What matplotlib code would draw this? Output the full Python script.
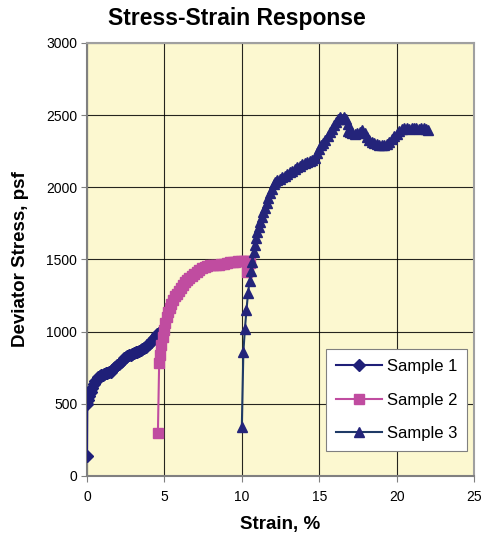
import matplotlib
matplotlib.use("Agg")
import matplotlib.pyplot as plt

plt.rcParams['font.family'] = ['Liberation Sans', 'DejaVu Sans']

# Sample 1 - strain (%) and deviator stress (psf)
s1_strain = [0.0, 0.02, 0.08, 0.15, 0.24, 0.33, 0.42, 0.52, 0.62, 0.72, 0.82, 0.92,
             1.02, 1.12, 1.22, 1.32, 1.42, 1.53, 1.63, 1.73, 1.84, 1.96, 2.06, 2.17,
             2.28, 2.39, 2.5, 2.61, 2.72, 2.82, 2.93, 3.04, 3.15, 3.25, 3.36, 3.47,
             3.58, 3.68, 3.79, 3.9, 4.0, 4.11, 4.22, 4.33, 4.44, 4.54, 4.63, 4.72]
s1_stress = [140, 500, 528, 556, 584, 612, 638, 655, 668, 683, 692, 697,
             701, 706, 711, 715, 719, 723, 734, 745, 756, 769, 778, 788,
             799, 815, 822, 830, 836, 838, 846, 852, 857, 862, 866, 872,
             878, 885, 895, 905, 914, 931, 942, 953, 968, 982, 992, 1000]

# Sample 2
s2_strain = [4.58, 4.66, 4.72, 4.8, 4.88, 4.96, 5.05, 5.14, 5.24, 5.34, 5.45, 5.56,
             5.68, 5.8, 5.92, 6.05, 6.18, 6.32, 6.46, 6.6, 6.76, 6.92, 7.08, 7.25,
             7.42, 7.6, 7.78, 7.96, 8.14, 8.32, 8.5, 8.68, 8.86, 9.04, 9.22, 9.4,
             9.58, 9.76, 9.94, 10.12, 10.3, 10.46, 10.54, 10.42, 10.36]
s2_stress = [300, 780, 840, 905, 960, 1010, 1060, 1100, 1135, 1165, 1195, 1222,
             1245, 1262, 1285, 1305, 1325, 1342, 1358, 1372, 1386, 1398, 1410, 1425,
             1440, 1448, 1455, 1460, 1462, 1465, 1464, 1468, 1472, 1476, 1480, 1482,
             1484, 1486, 1488, 1488, 1487, 1490, 1478, 1440, 1415]

# Sample 3
s3_strain = [10.0, 10.1, 10.2, 10.3, 10.4, 10.5, 10.6, 10.68, 10.76, 10.84, 10.92,
             11.0, 11.08, 11.18, 11.28, 11.38, 11.5, 11.6, 11.72, 11.84, 11.94,
             12.05, 12.16, 12.3, 12.46, 12.62, 12.78, 12.94, 13.1, 13.26, 13.42,
             13.58, 13.74, 13.9, 14.06, 14.22, 14.38, 14.54, 14.7, 14.84, 14.98,
             15.12, 15.26, 15.4, 15.54, 15.68, 15.82, 15.96, 16.1, 16.22, 16.34,
             16.48, 16.62, 16.76, 16.88, 16.84, 16.98, 17.14, 17.3, 17.46, 17.62,
             17.78, 17.94, 18.08, 18.24, 18.4, 18.56, 18.72, 18.88, 19.04, 19.2,
             19.36, 19.52, 19.68, 19.84, 20.0, 20.16, 20.32, 20.48, 20.64, 20.8,
             20.96, 21.12, 21.28, 21.44, 21.6, 21.76, 21.92, 22.05]
s3_stress = [340, 860, 1020, 1150, 1265, 1350, 1420, 1480, 1550, 1600, 1648,
             1690, 1728, 1760, 1797, 1830, 1860, 1890, 1925, 1958, 1985,
             2020, 2035, 2050, 2060, 2068, 2078, 2090, 2105, 2112, 2125,
             2138, 2150, 2160, 2170, 2178, 2185, 2192, 2205, 2235, 2265,
             2290, 2310, 2330, 2355, 2380, 2405, 2430, 2452, 2470, 2490,
             2475, 2485, 2470, 2440, 2390, 2385, 2378, 2372, 2378, 2380,
             2395, 2375, 2350, 2328, 2315, 2305, 2300, 2295, 2290, 2292,
             2300, 2315, 2335, 2355, 2372, 2388, 2402, 2410, 2412, 2405,
             2408, 2410, 2412, 2402, 2408, 2412, 2405, 2395]

x_ticks = [0, 5, 10, 15, 20, 25]
y_ticks = [0, 500, 1000, 1500, 2000, 2500, 3000]

fig = plt.figure(figsize=(4.82, 5.37), dpi=100)
ax = fig.add_axes([0.1805, 0.1136, 0.803, 0.8064])
ax.set_facecolor('#FCF8D0')

ax.plot(s1_strain, s1_stress, color='#1F1F78', marker='D', markersize=6,
        linewidth=1.5, label='Sample 1', zorder=3)
ax.plot(s2_strain, s2_stress, color='#C04CA0', marker='s', markersize=6.5,
        linewidth=1.5, label='Sample 2', zorder=3)
ax.plot(s3_strain, s3_stress, color='#1F3A66', marker='^', markersize=7,
        markerfacecolor='#24247A', markeredgecolor='#24247A',
        linewidth=1.5, label='Sample 3', zorder=4)

ax.set_xlim(0, 25)
ax.set_ylim(0, 3000)
ax.set_xticks(x_ticks)
ax.set_yticks(y_ticks)
ax.grid(True, color='#000000', linewidth=0.8, alpha=0.85)
ax.set_axisbelow(True)
ax.tick_params(direction='out', length=4, width=0.8, colors='#808080',
               labelcolor='#000000', labelsize=10, pad=3)
ax.tick_params(axis='x', pad=6)

for side in ['left', 'bottom']:
    ax.spines[side].set_color('#808080')
    ax.spines[side].set_linewidth(1.5)
for side in ['top', 'right']:
    ax.spines[side].set_color('#A0A0A0')
    ax.spines[side].set_linewidth(1.5)

ax.set_xlabel('Strain, %', fontsize=13.5, fontweight='bold', labelpad=9)
ax.set_ylabel('Deviator Stress, psf', fontsize=13.5, fontweight='bold', labelpad=12)
fig.text(0.492, 0.966, 'Stress-Strain Response', fontsize=16.5, fontweight='bold',
         ha='center', va='center')

leg = ax.legend(loc='lower right', bbox_to_anchor=(0.982, 0.058), fontsize=12,
                frameon=True, fancybox=False, framealpha=1, edgecolor='#808080',
                borderpad=0.6, labelspacing=1.1, handlelength=2.8,
                handletextpad=0.25, borderaxespad=0)
leg.get_frame().set_linewidth(0.8)

fig.savefig('out.png', dpi=100)
